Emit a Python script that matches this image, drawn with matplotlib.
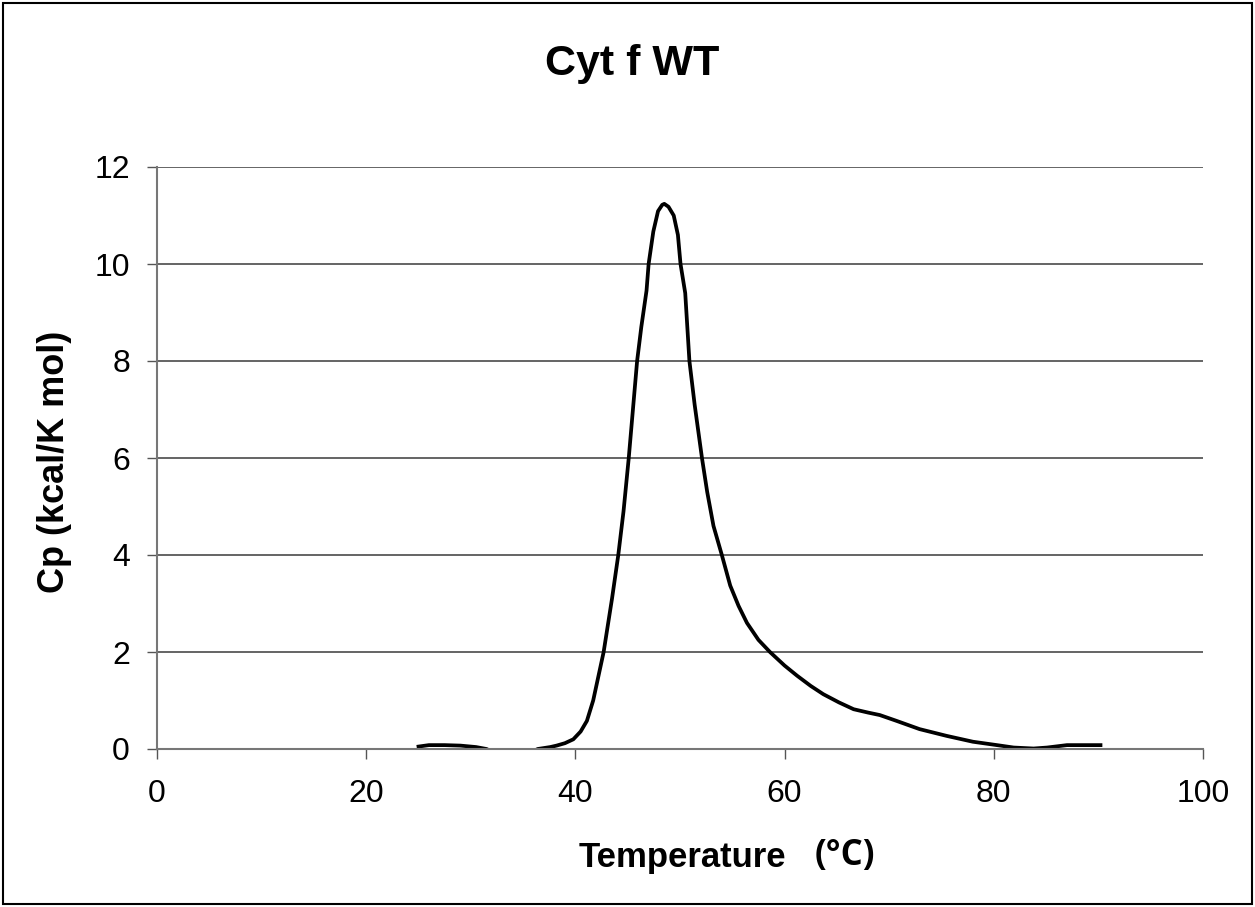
import matplotlib.pyplot as plt
from matplotlib.patches import Rectangle

# DSC trace, Cyt f wild type
temperature = [25.0, 26.0, 27.5, 29.0, 30.5, 31.5, 32.5, 35.5, 36.4, 37.6,
               38.2, 39.0, 39.8, 40.5, 41.1, 41.7, 42.2, 42.7, 43.5, 44.1,
               44.6, 45.1, 45.5, 45.9, 46.3, 46.8, 47.0, 47.45, 47.9, 48.3,
               48.5, 48.9, 49.4, 49.8, 50.05, 50.5, 50.9, 51.4, 52.1, 52.6,
               53.2, 54.0, 54.8, 55.6, 56.4, 57.5, 58.6, 60.0, 61.2, 62.5,
               63.7, 65.2, 66.6, 68.0, 69.1, 70.7, 72.9, 75.5, 78.0, 80.3,
               81.9, 83.8, 85.1, 87.0, 88.0, 90.2]
cp = [0.05, 0.08, 0.08, 0.07, 0.04, 0.0, -0.1, -0.1, 0.0, 0.04,
      0.07, 0.12, 0.2, 0.36, 0.58, 1.0, 1.5, 2.0, 3.1, 4.0,
      4.9, 6.0, 7.0, 8.0, 8.7, 9.45, 10.0, 10.67, 11.09, 11.22,
      11.24, 11.18, 11.0, 10.6, 10.0, 9.4, 8.0, 7.1, 6.0, 5.3,
      4.6, 4.0, 3.37, 2.95, 2.6, 2.25, 2.0, 1.72, 1.51, 1.3,
      1.13, 0.96, 0.82, 0.75, 0.70, 0.58, 0.41, 0.27, 0.15, 0.08,
      0.03, 0.01, 0.03, 0.08, 0.08, 0.08]

x_ticks = [0, 20, 40, 60, 80, 100]
y_ticks = [0, 2, 4, 6, 8, 10, 12]

plt.rcParams["font.family"] = ["Liberation Sans", "DejaVu Sans"]

fig = plt.figure(figsize=(12.55, 9.07), dpi=100)
ax = fig.add_axes([157 / 1255, 1 - 749 / 907, (1203 - 157) / 1255, (749 - 167) / 907])

ax.plot(temperature, cp, color="black", lw=2.7, solid_joinstyle="round")

ax.set_xlim(0, 100)
ax.set_ylim(0, 12)
ax.set_xticks(x_ticks)
ax.set_yticks(y_ticks)
ax.tick_params(labelsize=23, length=7.5, width=1, color="#555555")
ax.tick_params(axis="x", pad=14)
ax.tick_params(axis="y", pad=12)

ax.grid(axis="y", color="#3a3a3a", lw=1.1)
ax.set_axisbelow(True)
for side in ["top", "right"]:
    ax.spines[side].set_visible(False)
for side in ["left", "bottom"]:
    ax.spines[side].set_color("#777777")
    ax.spines[side].set_linewidth(1.5)

fig.text(632 / 1255, 1 - 75 / 907, "Cyt f WT", fontsize=31, fontweight="bold",
         ha="center", va="baseline")
fig.text(54 / 1255, 1 - 462 / 907, "Cp (kcal/K mol)", fontsize=26, fontweight="bold",
         rotation=90, ha="center", va="center")
fig.text(682 / 1255, 1 - 867 / 907, "Temperature", fontsize=25, fontweight="bold",
         ha="center", va="baseline")
fig.text(845 / 1255, 1 - 856 / 907, "(°C)", fontsize=25, fontweight="bold",
         ha="center", va="center", family=["Open Sans", "DejaVu Sans"])

# outer frame
fig.patches.append(Rectangle((0.002, 0.003), 0.996, 0.994, transform=fig.transFigure,
                             fill=False, edgecolor="black", lw=1.5))

fig.savefig("out.png", dpi=100)
